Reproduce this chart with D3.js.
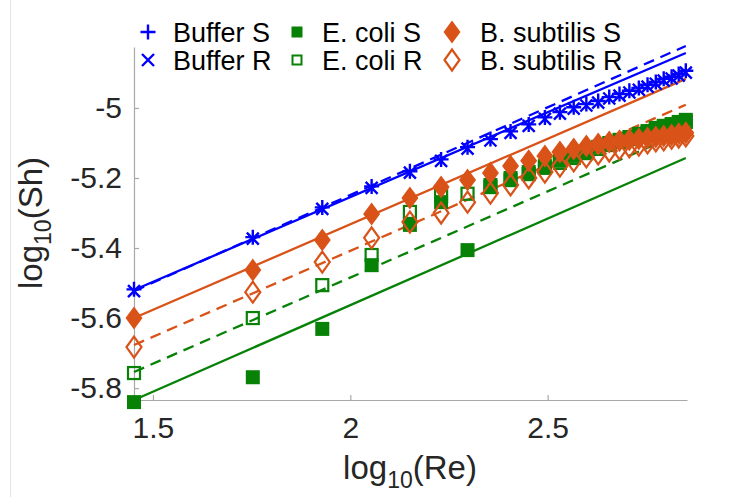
<!DOCTYPE html>
<html><head><meta charset="utf-8">
<script src="https://cdn.jsdelivr.net/npm/d3@7"></script>
<style>body{margin:0;background:#fff} svg{display:block} text{font-family:"Liberation Sans",Arial,Helvetica,sans-serif}</style>
</head><body><svg id="c" width="750" height="497"></svg>
<script>
// ---- data ----
const logRe = [1.452,1.753,1.929,2.054,2.151,2.230,2.297,2.355,2.406,2.452,2.493,2.531,2.566,2.598,2.628,2.656,2.682,2.707,2.731,2.753,2.774,2.794,2.814,2.832,2.850];
const bufferS = [-5.518,-5.369,-5.284,-5.224,-5.181,-5.147,-5.112,-5.089,-5.067,-5.047,-5.027,-5.012,-4.998,-4.989,-4.980,-4.969,-4.960,-4.951,-4.943,-4.934,-4.926,-4.917,-4.911,-4.903,-4.894];
const bufferR = [-5.523,-5.373,-5.288,-5.228,-5.185,-5.151,-5.116,-5.093,-5.071,-5.051,-5.031,-5.016,-5.002,-4.993,-4.985,-4.973,-4.965,-4.956,-4.948,-4.939,-4.931,-4.922,-4.916,-4.908,-4.899];
const ecoliS = [-5.840,-5.769,-5.631,-5.449,-5.334,-5.269,-5.406,-5.220,-5.200,-5.183,-5.166,-5.151,-5.137,-5.123,-5.111,-5.100,-5.091,-5.083,-5.074,-5.066,-5.057,-5.051,-5.046,-5.040,-5.034];
const ecoliR = [-5.757,-5.600,-5.506,-5.420,-5.297,-5.251,-5.245,-5.226,-5.206,-5.189,-5.171,-5.157,-5.143,-5.129,-5.117,-5.106,-5.097,-5.089,-5.080,-5.071,-5.063,-5.057,-5.051,-5.046,-5.040];
const bsubS = [-5.600,-5.463,-5.377,-5.303,-5.257,-5.226,-5.206,-5.186,-5.166,-5.151,-5.137,-5.126,-5.117,-5.109,-5.103,-5.097,-5.094,-5.091,-5.089,-5.086,-5.083,-5.080,-5.077,-5.074,-5.071];
const bsubR = [-5.683,-5.526,-5.440,-5.371,-5.326,-5.300,-5.269,-5.243,-5.220,-5.200,-5.183,-5.166,-5.151,-5.140,-5.131,-5.123,-5.117,-5.111,-5.106,-5.100,-5.094,-5.091,-5.086,-5.083,-5.080];
// fitted power-law lines (value at each end of fitRange)
const fitRange = [1.452, 2.850];
const bufferSFit = [-5.520, -4.843];
const bufferRFit = [-5.523, -4.823];
const ecoliSFit = [-5.834, -5.143];
const ecoliRFit = [-5.754, -5.066];
const bsubSFit = [-5.600, -4.917];
const bsubRFit = [-5.677, -4.991];
const legendLabels = ["Buffer S","Buffer R","E. coli S","E. coli R","B. subtilis S","B. subtilis R"];
const xTicks = [1.5, 2, 2.5];
const xTickLabels = ["1.5","2","2.5"];
const yTicks = [-5.8, -5.6, -5.4, -5.2, -5];
const yTickLabels = ["-5.8","-5.6","-5.4","-5.2","-5"];

// ---- styles ----
const BLUE = "#0000ff", GREEN = "#078207", ORANGE = "#d95319";
const FONT = "Liberation Sans, Arial, Helvetica, sans-serif";

const svg = d3.select("#c");
const x = d3.scaleLinear().domain([1.452, 2.853]).range([134, 687]);
const y = d3.scaleLinear().domain([-5.834, -4.826]).range([400, 47]);

// figure edge
svg.append("line").attr("x1",10.5).attr("x2",10.5).attr("y1",0).attr("y2",497).attr("stroke","#e4e4e4");

// axes
const gx = svg.append("g").attr("transform","translate(0,400)")
  .call(d3.axisBottom(x).tickValues(xTicks).tickFormat((d,i)=>xTickLabels[i]).tickSizeInner(-5).tickSizeOuter(0).tickPadding(17));
const gy = svg.append("g").attr("transform","translate(134,0)")
  .call(d3.axisLeft(y).tickValues(yTicks).tickFormat((d,i)=>yTickLabels[i]).tickSizeInner(-5).tickSizeOuter(0).tickPadding(12));
[gx,gy].forEach(g=>{
  g.attr("font-size",30).attr("font-family",FONT);
  g.select(".domain").attr("stroke","#a8a8a8").attr("stroke-width",1.2);
  g.selectAll(".tick line").attr("stroke","#a8a8a8").attr("stroke-width",1.2);
  g.selectAll(".tick text").attr("fill","#262626");
});

// axis labels
const xl = svg.append("text").attr("x",410).attr("y",479).attr("text-anchor","middle")
  .attr("font-size",33).attr("fill","#262626");
xl.append("tspan").text("log");
xl.append("tspan").attr("font-size",23).attr("dy",9).text("10");
xl.append("tspan").attr("dy",-9).text("(Re)");
const yl = svg.append("text").attr("transform","translate(42,223) rotate(-90)").attr("text-anchor","middle")
  .attr("font-size",33).attr("fill","#262626");
yl.append("tspan").text("log");
yl.append("tspan").attr("font-size",23).attr("dy",9).text("10");
yl.append("tspan").attr("dy",-9).text("(Sh)");

// fit lines
const line = d3.line().x(d=>x(d[0])).y(d=>y(d[1]));
function fit(vals, color, dashed){
  svg.append("path").datum(fitRange.map((r,i)=>[r, vals[i]]))
    .attr("d", line).attr("fill","none").attr("stroke",color).attr("stroke-width",2.3)
    .attr("stroke-dasharray", dashed ? "11,7" : null);
}
fit(ecoliSFit, GREEN, false);
fit(ecoliRFit, GREEN, true);
fit(bsubSFit, ORANGE, false);
fit(bsubRFit, ORANGE, true);
fit(bufferSFit, BLUE, false);
fit(bufferRFit, BLUE, true);

// marker shapes
const shapes = {
  plus: g => g.append("path").attr("d","M-7.5,0H7.5M0,-7.5V7.5").attr("stroke",BLUE).attr("stroke-width",2.4).attr("fill","none"),
  cross: g => g.append("path").attr("d","M-6,-6L6,6M-6,6L6,-6").attr("stroke",BLUE).attr("stroke-width",2.4).attr("fill","none"),
  fsquare: g => g.append("rect").attr("x",-7).attr("y",-7).attr("width",14).attr("height",14).attr("fill",GREEN),
  osquare: g => g.append("rect").attr("x",-6).attr("y",-6).attr("width",12).attr("height",12).attr("fill","none").attr("stroke",GREEN).attr("stroke-width",2.2),
  fdiamond: g => g.append("path").attr("d","M0,-11.5L8.5,0L0,11.5L-8.5,0Z").attr("fill",ORANGE),
  odiamond: g => g.append("path").attr("d","M0,-10.5L7.5,0L0,10.5L-7.5,0Z").attr("fill","none").attr("stroke",ORANGE).attr("stroke-width",2.2)
};
function markers(vals, shape){
  const g = svg.append("g");
  vals.forEach((v,i)=>{
    const m = g.append("g").attr("transform",`translate(${x(logRe[i])},${y(v)})`);
    shapes[shape](m);
  });
}
markers(bufferS, "plus");
markers(bufferR, "cross");
markers(ecoliS, "fsquare");
markers(ecoliR, "osquare");
markers(bsubS, "fdiamond");
markers(bsubR, "odiamond");

// legend
const legShapes = ["plus","cross","fsquare","osquare","fdiamond","odiamond"];
const colMarkX = [148, 297, 452];
const colTextX = [173, 322, 480];
const rowY = [32, 60];
const leg = svg.append("g");
legendLabels.forEach((lab,i)=>{
  const col = Math.floor(i/2), row = i%2;
  const m = leg.append("g").attr("transform",`translate(${colMarkX[col]},${rowY[row]})`);
  if (legShapes[i]==="fsquare") m.append("rect").attr("x",-5.5).attr("y",-5.5).attr("width",11).attr("height",11).attr("fill",GREEN);
  else if (legShapes[i]==="osquare") m.append("rect").attr("x",-4.5).attr("y",-4.5).attr("width",9).attr("height",9).attr("fill","none").attr("stroke",GREEN).attr("stroke-width",2);
  else shapes[legShapes[i]](m);
  leg.append("text").attr("x",colTextX[col]).attr("y",rowY[row]).attr("dy","0.36em")
    .attr("font-size",27).attr("fill","#000").text(lab);
});
</script></body></html>
